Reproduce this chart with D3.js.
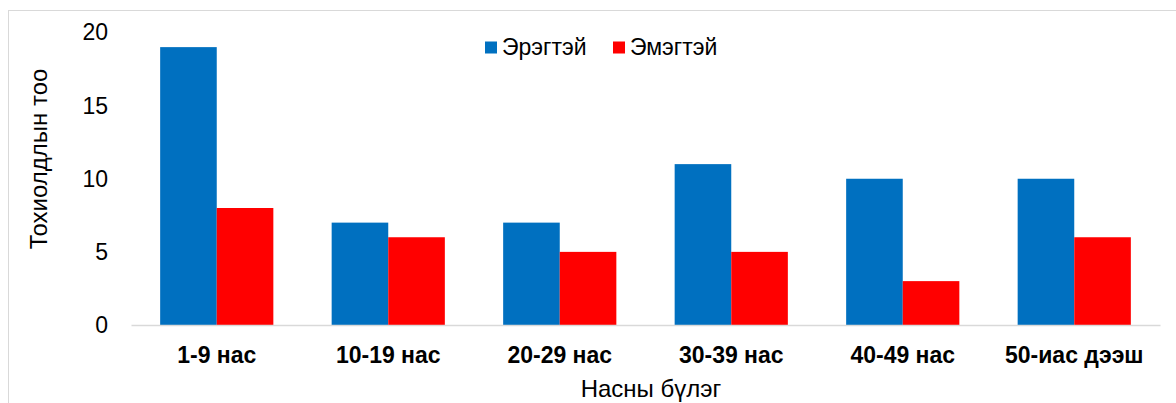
<!DOCTYPE html>
<html>
<head>
<meta charset="utf-8">
<script src="https://cdn.jsdelivr.net/npm/d3@7"></script>
<style>
  body { margin: 0; background: #fff; }
  svg { display: block; font-family: "Liberation Sans", Arial, sans-serif; }
</style>
</head>
<body>
<svg width="1176" height="403"></svg>
<script>
// data
var categories = ["1-9 нас", "10-19 нас", "20-29 нас", "30-39 нас", "40-49 нас", "50-иас дээш"];
var seriesNames = ["Эрэгтэй", "Эмэгтэй"];
var male = [19, 7, 7, 11, 10, 10];
var female = [8, 6, 5, 5, 3, 6];
var yTicks = [0, 5, 10, 15, 20];
var colors = ["#0070C0", "#FF0000"];

const svg = d3.select("svg"),
  margin = {top: 32.5, right: 16, bottom: 78, left: 131},
  width = +svg.attr("width") - margin.left - margin.right,
  height = +svg.attr("height") - margin.top - margin.bottom;

// outer frame
svg.append("rect")
  .attr("x", 8.5).attr("y", 10.5)
  .attr("width", 1200).attr("height", 420)
  .attr("fill", "none").attr("stroke", "#d9d9d9").attr("stroke-width", 1);

const g = svg.append("g").attr("transform", `translate(${margin.left},${margin.top})`);

const x0 = d3.scaleBand().domain(categories).range([0, width]).paddingInner(0.34).paddingOuter(0.17);
const x1 = d3.scaleBand().domain(seriesNames).range([0, x0.bandwidth()]);
const y = d3.scaleLinear().domain([0, 20]).range([height, 0]);

// y axis (labels only)
const yAxis = g.append("g").call(d3.axisLeft(y).tickValues(yTicks).tickSize(0).tickPadding(23));
yAxis.select(".domain").remove();
yAxis.selectAll("text").attr("font-size", 23).attr("fill", "#000").attr("font-family", "Liberation Sans, Arial, sans-serif");

// bars
var rows = categories.map((c, i) => ({cat: c, vals: [male[i], female[i]]}));
g.selectAll(".grp").data(rows).enter().append("g")
  .attr("transform", d => `translate(${x0(d.cat)},0)`)
  .selectAll("rect").data(d => d.vals.map((v, k) => ({name: seriesNames[k], v: v, k: k})))
  .enter().append("rect")
  .attr("x", d => x1(d.name))
  .attr("y", d => y(d.v))
  .attr("width", x1.bandwidth())
  .attr("height", d => height - y(d.v))
  .attr("fill", d => colors[d.k]);

// x axis
const xAxis = g.append("g").attr("transform", `translate(0,${height})`)
  .call(d3.axisBottom(x0).tickSize(0).tickPadding(22).tickSizeOuter(0));
xAxis.select(".domain").attr("stroke", "#d9d9d9").attr("stroke-width", 1.5);
xAxis.selectAll("text").attr("font-size", 23).attr("font-weight", "bold").attr("fill", "#000")
  .attr("font-family", "Liberation Sans, Arial, sans-serif");

// axis titles
svg.append("text").attr("x", 651).attr("y", 397).attr("text-anchor", "middle")
  .attr("font-size", 24).attr("fill", "#000").text("Насны бүлэг");
svg.append("text").attr("transform", "translate(47,159) rotate(-90)").attr("text-anchor", "middle")
  .attr("font-size", 24).attr("fill", "#000").text("Тохиолдлын тоо");

// legend
const legX = [485, 613];
const leg = svg.append("g");
seriesNames.forEach((n, i) => {
  leg.append("rect").attr("x", legX[i]).attr("y", 41.5).attr("width", 12).attr("height", 12).attr("fill", colors[i]);
  leg.append("text").attr("x", legX[i] + 17).attr("y", 55).attr("font-size", 23).attr("fill", "#000").text(n);
});
</script>
</body>
</html>
